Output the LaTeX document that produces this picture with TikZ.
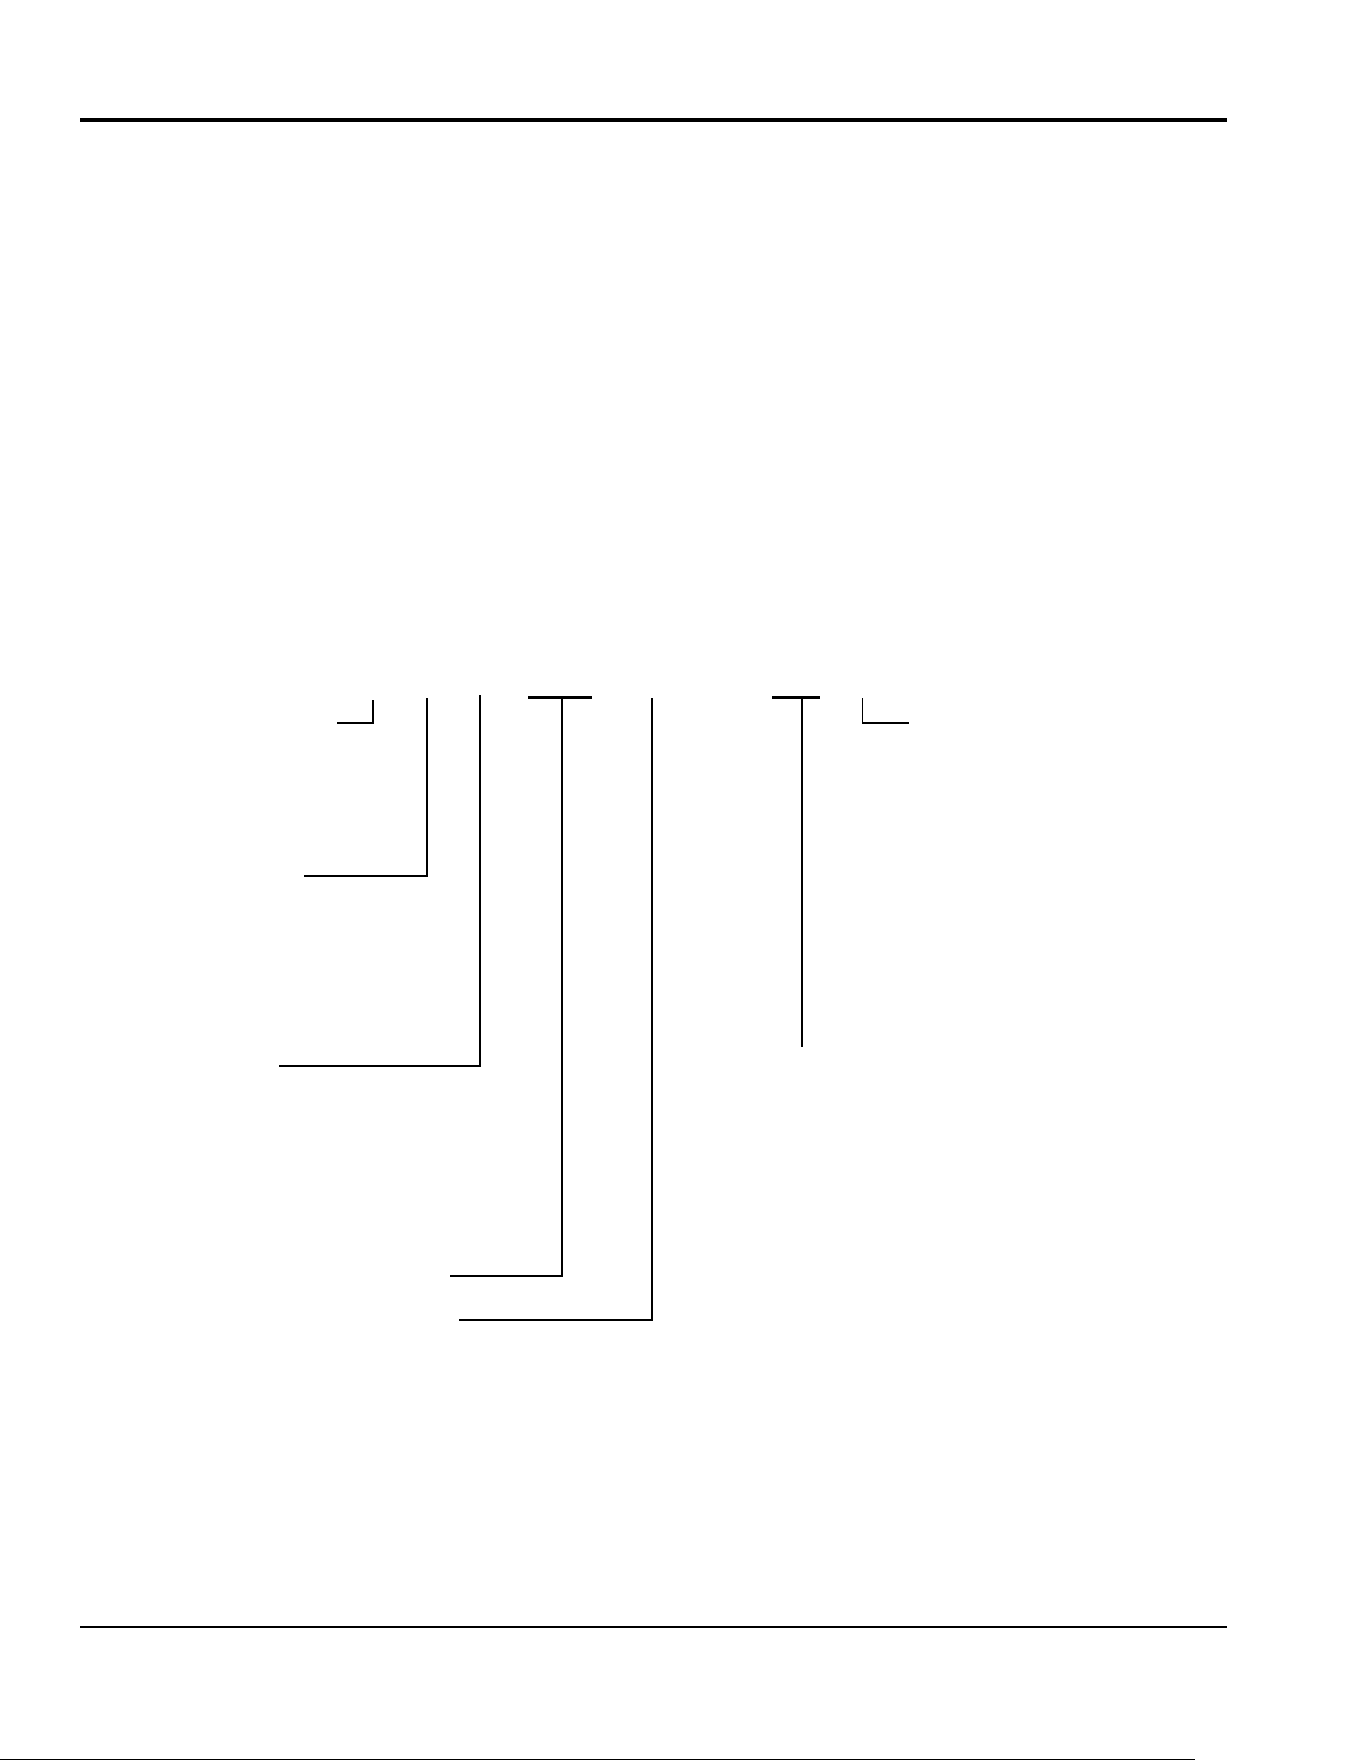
\documentclass[tikz,border=0pt]{standalone}
\usepackage{tikz}

\begin{document}
\begin{tikzpicture}[x=0.4497pt,y=-0.4497pt,
  leader/.style={line width=0.65pt},
  tbar/.style={line width=0.95pt}]
        \useasboundingbox (0,0) rectangle (1361,1761);
        % page rules
        \draw[line width=1.45pt] (80,120) -- (1227,120);
        \draw[line width=0.9pt] (80,1627) -- (1227,1627);
        \draw[line width=0.7pt] (0,1759.6) -- (1195,1759.6);
        % leaders going left
        \foreach \n/\x/\t/\y/\z in {a/373/700/723/337, b/427/698/876/304, c/480/695/1066/279, d/562/698/1276/450, e/652/698/1320/459}
        {
        \coordinate (top\n) at (\x,\t);
        \coordinate (end\n) at (\z,\y);
        \draw[leader] (top\n) |- (end\n);
        }
        % leaders going right and down
        \coordinate (topf) at (802,698);
        \coordinate (endf) at (802,1047);
        \draw[leader] (topf) -- (endf);
        \coordinate (topg) at (862.5,698);
        \coordinate (endg) at (909,723);
        \draw[leader] (topg) |- (endg);
        % bars
        \coordinate (bard1) at (528,697.5);
        \coordinate (bard2) at (592,697.5);
        \draw[tbar] (bard1) -- (bard2);
        \coordinate (barf1) at (772,697.5);
        \coordinate (barf2) at (820,697.5);
        \draw[tbar] (barf1) -- (barf2);
\end{tikzpicture}
\end{document}
